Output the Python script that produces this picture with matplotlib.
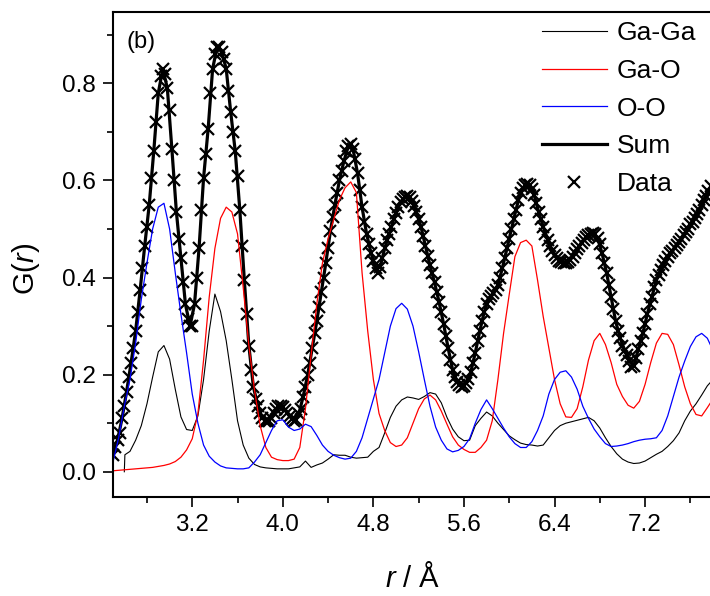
import numpy as np
import matplotlib
matplotlib.use('Agg')
import matplotlib.pyplot as plt
from matplotlib.ticker import MultipleLocator

plt.rcParams['font.family'] = ['Liberation Sans', 'DejaVu Sans']
plt.rcParams['mathtext.fontset'] = 'custom'
plt.rcParams['mathtext.rm'] = 'Liberation Sans'
plt.rcParams['mathtext.it'] = 'Liberation Sans:italic'

# partial G(r) on a 0.05 A grid starting at 2.50 A
r_start = 2.50
ga_o = [0.002, 0.003, 0.004, 0.005, 0.006, 0.007, 0.008, 0.009, 0.011, 0.013,
        0.016, 0.021, 0.03, 0.045, 0.068, 0.12, 0.23, 0.36, 0.46, 0.522,
        0.545, 0.535, 0.49, 0.38, 0.26, 0.168, 0.095, 0.05, 0.03, 0.025,
        0.023, 0.023, 0.026, 0.05, 0.13, 0.24, 0.345, 0.43, 0.48, 0.52,
        0.56, 0.585, 0.597, 0.575, 0.41, 0.29, 0.19, 0.12, 0.085, 0.06,
        0.052, 0.055, 0.07, 0.1, 0.13, 0.15, 0.158, 0.148, 0.125, 0.098,
        0.072, 0.055, 0.046, 0.04, 0.04, 0.05, 0.065, 0.105, 0.19, 0.285,
        0.365, 0.443, 0.472, 0.477, 0.465, 0.395, 0.32, 0.255, 0.19, 0.14,
        0.113, 0.112, 0.13, 0.175, 0.23, 0.27, 0.285, 0.262, 0.225, 0.18,
        0.155, 0.137, 0.131, 0.145, 0.18, 0.225, 0.265, 0.285, 0.283, 0.262,
        0.22, 0.175, 0.14, 0.118, 0.115, 0.132, 0.15]
o_o = [0.02, 0.07, 0.135, 0.19, 0.265, 0.355, 0.43, 0.50, 0.545, 0.553,
       0.50, 0.41, 0.325, 0.245, 0.16, 0.10, 0.055, 0.032, 0.02, 0.012,
       0.008, 0.007, 0.006, 0.006, 0.008, 0.02, 0.035, 0.06, 0.085, 0.105,
       0.107, 0.092, 0.085, 0.088, 0.098, 0.093, 0.075, 0.055, 0.042, 0.034,
       0.029, 0.026, 0.028, 0.042, 0.07, 0.11, 0.15, 0.19, 0.245, 0.30,
       0.336, 0.347, 0.335, 0.30, 0.247, 0.19, 0.135, 0.092, 0.065, 0.047,
       0.041, 0.044, 0.052, 0.068, 0.10, 0.128, 0.148, 0.13, 0.11, 0.09,
       0.072, 0.058, 0.05, 0.05, 0.062, 0.085, 0.115, 0.16, 0.19, 0.205,
       0.208, 0.195, 0.17, 0.135, 0.11, 0.088, 0.072, 0.058, 0.052, 0.053,
       0.055, 0.058, 0.062, 0.065, 0.067, 0.068, 0.07, 0.085, 0.115, 0.155,
       0.195, 0.228, 0.258, 0.278, 0.285, 0.275, 0.25]

# Ga-Ga switches on at 2.60 A, then follows the 0.05 grid from 2.65 A
ga_ga_onset_r = [2.60, 2.605]
ga_ga_onset = [0.0, 0.035]
ga_ga = [0.042, 0.065, 0.095, 0.14, 0.195, 0.247, 0.26,
         0.232, 0.17, 0.113, 0.087, 0.085, 0.115, 0.19, 0.29, 0.366, 0.33,
         0.27, 0.19, 0.105, 0.055, 0.028, 0.015, 0.01, 0.008, 0.007, 0.006,
         0.006, 0.006, 0.008, 0.01, 0.022, 0.009, 0.014, 0.018, 0.026, 0.035,
         0.034, 0.034, 0.03, 0.028, 0.029, 0.03, 0.042, 0.05, 0.08, 0.112,
         0.135, 0.148, 0.154, 0.152, 0.149, 0.155, 0.163, 0.16, 0.142, 0.112,
         0.088, 0.072, 0.064, 0.065, 0.095, 0.11, 0.123, 0.115, 0.1, 0.087,
         0.074, 0.066, 0.059, 0.056, 0.055, 0.053, 0.055, 0.07, 0.085, 0.095,
         0.1, 0.103, 0.106, 0.109, 0.112, 0.105, 0.09, 0.07, 0.052, 0.037,
         0.026, 0.02, 0.017, 0.018, 0.022, 0.029, 0.036, 0.042, 0.052, 0.064,
         0.08, 0.105, 0.125, 0.14, 0.158, 0.177, 0.19]

# total fit, 0.04 A grid from 2.50 A
sum_g = [0.035, 0.065, 0.11, 0.165, 0.225, 0.29, 0.375, 0.465, 0.55, 0.66,
         0.78, 0.83, 0.79, 0.665, 0.535, 0.44, 0.345, 0.30, 0.345, 0.46,
         0.605, 0.705, 0.83, 0.875, 0.865, 0.83, 0.74, 0.66, 0.54, 0.395,
         0.26, 0.175, 0.135, 0.11, 0.105, 0.11, 0.13, 0.135, 0.128, 0.115,
         0.104, 0.118, 0.155, 0.20, 0.255, 0.31, 0.37, 0.43, 0.495, 0.55,
         0.60, 0.64, 0.672, 0.665, 0.615, 0.545, 0.49, 0.45, 0.42, 0.422,
         0.46, 0.49, 0.52, 0.545, 0.562, 0.567, 0.558, 0.535, 0.505, 0.465,
         0.425, 0.39, 0.35, 0.305, 0.255, 0.21, 0.185, 0.175, 0.183, 0.205,
         0.245, 0.29, 0.33, 0.355, 0.368, 0.385, 0.42, 0.46, 0.50, 0.54,
         0.575, 0.59, 0.59, 0.57, 0.535, 0.505, 0.478, 0.455, 0.44, 0.432,
         0.43, 0.437, 0.45, 0.465, 0.478, 0.487, 0.491, 0.482, 0.45, 0.41,
         0.36, 0.31, 0.275, 0.25, 0.228, 0.218, 0.252, 0.285, 0.325, 0.36,
         0.395, 0.415, 0.435, 0.45, 0.46, 0.473, 0.487, 0.50, 0.515, 0.53,
         0.55, 0.568, 0.588]

# measured G(r), 0.02 A grid from 2.50 A
data_g = [0.035, 0.05, 0.065, 0.08, 0.11,
          0.135, 0.165, 0.195, 0.225, 0.255,
          0.29, 0.33, 0.375, 0.42, 0.465,
          0.505, 0.55, 0.605, 0.66, 0.72,
          0.78, 0.815, 0.83, 0.82, 0.79,
          0.745, 0.665, 0.60, 0.535, 0.48,
          0.44, 0.39, 0.345, 0.315, 0.30,
          0.30, 0.345, 0.40, 0.46, 0.54,
          0.605, 0.655, 0.705, 0.78, 0.83,
          0.86, 0.875, 0.875, 0.865, 0.85,
          0.83, 0.785, 0.74, 0.70, 0.66,
          0.61, 0.54, 0.465, 0.395, 0.325,
          0.26, 0.21, 0.175, 0.15, 0.135,
          0.12, 0.11, 0.105, 0.105, 0.105,
          0.11, 0.12, 0.13, 0.135, 0.135,
          0.133, 0.128, 0.12, 0.115, 0.108,
          0.104, 0.106, 0.118, 0.13, 0.155,
          0.175, 0.20, 0.225, 0.255, 0.285,
          0.31, 0.34, 0.37, 0.40, 0.43,
          0.46, 0.495, 0.525, 0.55, 0.575,
          0.60, 0.62, 0.64, 0.66, 0.672,
          0.675, 0.665, 0.645, 0.615, 0.58,
          0.545, 0.515, 0.49, 0.47, 0.45,
          0.435, 0.42, 0.41, 0.422, 0.44,
          0.46, 0.478, 0.49, 0.505, 0.52,
          0.533, 0.545, 0.555, 0.562, 0.566,
          0.567, 0.565, 0.558, 0.548, 0.535,
          0.52, 0.505, 0.485, 0.465, 0.445,
          0.425, 0.41, 0.39, 0.37, 0.35,
          0.33, 0.305, 0.28, 0.255, 0.23,
          0.21, 0.195, 0.185, 0.178, 0.175,
          0.177, 0.183, 0.192, 0.205, 0.225,
          0.245, 0.27, 0.29, 0.31, 0.33,
          0.345, 0.355, 0.362, 0.368, 0.375,
          0.385, 0.40, 0.42, 0.44, 0.46,
          0.48, 0.50, 0.52, 0.54, 0.56,
          0.575, 0.585, 0.59, 0.592, 0.59,
          0.583, 0.57, 0.553, 0.535, 0.52,
          0.505, 0.49, 0.478, 0.465, 0.455,
          0.447, 0.44, 0.435, 0.432, 0.43,
          0.43, 0.432, 0.437, 0.443, 0.45,
          0.458, 0.465, 0.472, 0.478, 0.483,
          0.487, 0.49, 0.491, 0.49, 0.482,
          0.47, 0.45, 0.43, 0.41, 0.385,
          0.36, 0.335, 0.31, 0.29, 0.275,
          0.26, 0.25, 0.24, 0.228, 0.215,
          0.218, 0.235, 0.252, 0.27, 0.285,
          0.305, 0.325, 0.345, 0.36, 0.38,
          0.395, 0.405, 0.415, 0.425, 0.435,
          0.443, 0.45, 0.455, 0.46, 0.467,
          0.473, 0.48, 0.487, 0.493, 0.50,
          0.51, 0.515, 0.522, 0.53, 0.54,
          0.55, 0.56, 0.568, 0.578, 0.588]

r_part = r_start + 0.05 * np.arange(len(o_o))
r_gaga = np.r_[ga_ga_onset_r, 2.65 + 0.05 * np.arange(len(ga_ga))]
g_gaga = np.r_[ga_ga_onset, ga_ga]
r_sum = r_start + 0.04 * np.arange(len(sum_g))
r_data = r_start + 0.02 * np.arange(len(data_g))

fig = plt.figure(figsize=(7.10, 5.96), dpi=100)
ax = fig.add_axes([113 / 710, 99 / 596, 600 / 710, 485 / 596])

h_data, = ax.plot(r_data, data_g, ls='none', marker='x', ms=9, mew=1.6,
                  color='black', label='Data')
h_sum, = ax.plot(r_sum, sum_g, color='black', lw=2.3, label='Sum')
h_gaga, = ax.plot(r_gaga, g_gaga, color='black', lw=0.8, label='Ga-Ga')
h_gao, = ax.plot(r_part, ga_o, color='red', lw=0.9, label='Ga-O')
h_oo, = ax.plot(r_part, o_o, color='blue', lw=0.9, label='O-O')

ax.set_xlim(2.5, 7.8)
ax.set_ylim(-0.052, 0.947)
ax.xaxis.set_major_locator(MultipleLocator(0.8))
ax.xaxis.set_minor_locator(MultipleLocator(0.4))
ax.yaxis.set_major_locator(MultipleLocator(0.2))
ax.yaxis.set_minor_locator(MultipleLocator(0.1))
ax.tick_params(which='both', direction='out', width=1.2, labelsize=17.5,
               top=False, right=False)
ax.tick_params(which='major', length=7.5, pad=5)
ax.tick_params(which='minor', length=4)
for s in ax.spines.values():
    s.set_linewidth(1.5)

ax.set_xlabel('$r$ / Å', fontsize=21)
ax.set_ylabel('G($r$)', fontsize=21)
ax.xaxis.set_label_coords(0.5, -0.137)
ax.yaxis.set_label_coords(-0.118, 0.47)

ax.text(0.023, 0.938, '(b)', transform=ax.transAxes, fontsize=17,
        va='center', ha='left')

ax.legend(handles=[h_gaga, h_gao, h_oo, h_sum, h_data], loc='upper left',
          bbox_to_anchor=(0.7145, 0.981), frameon=False, fontsize=19,
          handlelength=2.47, handletextpad=0.38, labelspacing=0.52,
          borderpad=0, borderaxespad=0, numpoints=1)

fig.savefig('out.png', dpi=100)
